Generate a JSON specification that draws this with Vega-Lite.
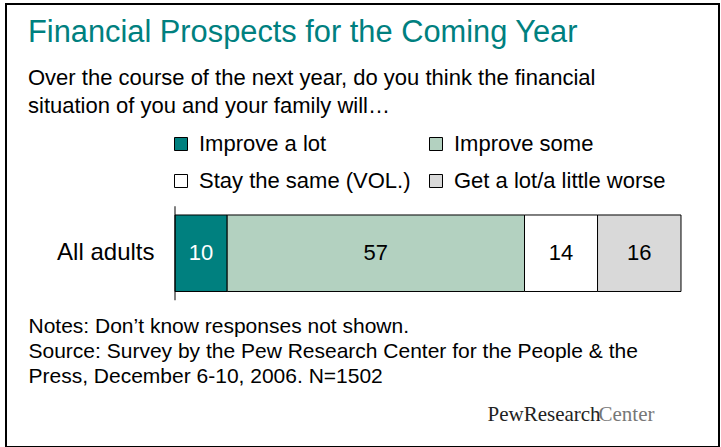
{
  "$schema": "https://vega.github.io/schema/vega-lite/v6.json",
  "autosize": {"type": "none"},
  "width": 713,
  "height": 443,
  "padding": {"left": 6, "top": 4, "right": 2, "bottom": 0},
  "background": "white",
  "config": {
    "font": "Liberation Sans",
    "view": {"stroke": "black", "strokeWidth": 2},
    "axis": {"grid": false}
  },
  "title": {
    "text": "Financial Prospects for the Coming Year",
    "subtitle": ["Over the course of the next year, do you think the financial", "situation of you and your family will…"],
    "anchor": "start",
    "frame": "group",
    "dx": 22,
    "offset": -114,
    "font": "Liberation Sans",
    "fontSize": 30.8,
    "fontWeight": "normal",
    "color": "#00807f",
    "subtitleFont": "Liberation Sans",
    "subtitleFontSize": 22,
    "subtitleColor": "black",
    "subtitlePadding": 19,
    "subtitleLineHeight": 28
  },
  "data": {
    "values": [
      {"group": "All adults", "response": "Improve a lot", "pct": 10},
      {"group": "All adults", "response": "Improve some", "pct": 57},
      {"group": "All adults", "response": "Stay the same (VOL.)", "pct": 14},
      {"group": "All adults", "response": "Get a lot/a little worse", "pct": 16}
    ]
  },
  "transform": [{"window": [{"op": "row_number", "as": "rank"}]}],
  "resolve": {"axis": {"x": "independent"}},
  "layer": [
    {
      "mark": {"type": "bar", "stroke": "black", "strokeWidth": 1},
      "encoding": {
        "x": {
          "field": "pct", "type": "quantitative", "stack": "zero",
          "scale": {"domain": [-32.397, 104.285], "nice": false, "zero": false},
          "axis": {
            "orient": "bottom", "domain": false, "ticks": false, "labels": false,
            "title": ["Notes: Don’t know responses not shown.", "Source: Survey by the Pew Research Center for the People & the", "Press, December 6-10, 2006. N=1502"],
            "titleX": 22, "titleY": -115, "titleAlign": "left", "titleBaseline": "alphabetic",
            "titleFont": "Liberation Sans", "titleFontSize": 21, "titleFontWeight": "normal",
            "titleColor": "black", "titleLineHeight": 25
          }
        },
        "y": {
          "field": "group", "type": "nominal",
          "scale": {"paddingInner": 0.5826, "paddingOuter": 1, "align": 0.5757},
          "axis": {
            "orient": "left", "offset": -169, "domain": false, "ticks": false, "tickSize": 0,
            "labelPadding": 21, "labelFontSize": 24, "labelColor": "black", "labelFont": "Liberation Sans",
            "title": "PewResearch", "titleAngle": 0, "titleX": 312, "titleY": 416,
            "titleAlign": "left", "titleBaseline": "alphabetic", "titleFont": "Liberation Serif",
            "titleFontSize": 21, "titleFontWeight": "normal", "titleColor": "#222222"
          }
        },
        "color": {
          "field": "response", "type": "nominal",
          "scale": {
            "domain": ["Improve a lot", "Improve some", "Stay the same (VOL.)", "Get a lot/a little worse"],
            "range": ["#00807f", "#b3d1c0", "#ffffff", "#d9d9d9"]
          },
          "legend": {
            "orient": "none", "legendX": 164, "legendY": 129, "columns": 2, "direction": "horizontal",
            "title": null, "padding": 0, "symbolType": "square", "symbolSize": 169,
            "symbolStrokeColor": "black", "symbolStrokeWidth": 1, "labelFontSize": 22,
            "labelFont": "Liberation Sans", "labelColor": "black", "labelOffset": 7,
            "columnPadding": 14, "rowPadding": 15, "labelLimit": 400
          }
        },
        "order": {"field": "rank", "type": "quantitative"}
      }
    },
    {
      "transform": [{"aggregate": [{"op": "count", "as": "n"}], "groupby": ["group"]}],
      "mark": {"type": "tick", "orient": "vertical", "size": 94, "thickness": 1, "color": "black", "opacity": 1},
      "encoding": {
        "x": {"datum": 0, "type": "quantitative", "axis": null},
        "y": {"field": "group", "type": "nominal"}
      }
    },
    {
      "mark": {"type": "text", "fontSize": 22, "font": "Liberation Sans", "baseline": "middle", "align": "center"},
      "encoding": {
        "x": {
          "field": "pct", "type": "quantitative", "stack": "zero", "bandPosition": 0.5,
          "axis": {
            "orient": "top", "domain": false, "ticks": false, "labels": false,
            "title": "Center", "titleX": 592, "titleY": 416, "titleAlign": "left", "titleBaseline": "alphabetic",
            "titleFont": "Liberation Serif", "titleFontSize": 21, "titleFontWeight": "normal", "titleColor": "#777777"
          }
        },
        "y": {"field": "group", "type": "nominal"},
        "detail": {"field": "response"},
        "order": {"field": "rank", "type": "quantitative"},
        "text": {"field": "pct", "type": "quantitative"},
        "color": {"condition": {"test": "datum.response === 'Improve a lot'", "value": "white"}, "value": "black"}
      }
    }
  ]
}
